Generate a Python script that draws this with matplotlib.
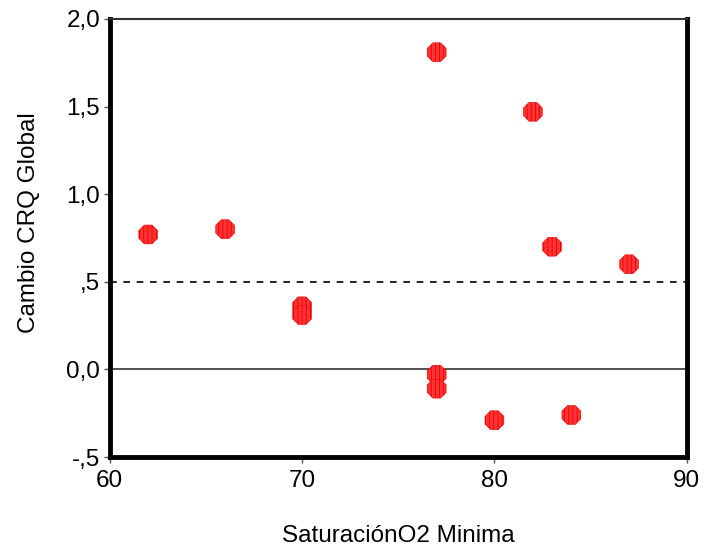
import matplotlib
matplotlib.use("Agg")
import matplotlib.pyplot as plt

# Datos
saturacion_o2 = [62, 66, 70, 70, 77, 77, 77, 80, 82, 83, 84, 87]
cambio_crq = [0.77, 0.80, 0.36, 0.31, 1.81, -0.03, -0.11, -0.29, 1.47, 0.70, -0.26, 0.60]

x_ticks = [60, 70, 80, 90]
y_ticks = [-0.5, 0.0, 0.5, 1.0, 1.5, 2.0]
y_tick_labels = ["-,5", "0,0", ",5", "1,0", "1,5", "2,0"]

plt.rcParams["font.family"] = ["Liberation Sans", "DejaVu Sans"]
plt.rcParams["hatch.linewidth"] = 0.6

fig = plt.figure(figsize=(7.08, 5.56), dpi=100)
ax = fig.add_axes([0.155, 0.178, 0.815, 0.788])

ax.axhline(0.0, color="#333333", linewidth=1.2, zorder=1)
ax.axhline(0.5, color="black", linewidth=1.2, linestyle=(0, (4, 4)), zorder=1)

# puntos rojos con textura de rayas verticales
ax.scatter(saturacion_o2, cambio_crq, s=215, marker="8", facecolor="#ff3333",
           edgecolors="#e80000", hatch="||||", linewidths=0.4, zorder=3)

ax.set_xlim(60, 90)
ax.set_ylim(-0.5, 2.0)
ax.set_xticks(x_ticks)
ax.set_xticklabels([str(t) for t in x_ticks])
ax.set_yticks(y_ticks)
ax.set_yticklabels(y_tick_labels)
ax.tick_params(axis="both", labelsize=17.5, length=4, width=1, color="#555555", pad=3)
ax.tick_params(axis="x", pad=5)

# Bordes gruesos a la izquierda, abajo y a la derecha
for side in ["left", "bottom", "right"]:
    ax.spines[side].set_linewidth(3.5)
ax.spines["top"].set_linewidth(1.5)
ax.spines["top"].set_color("#333333")

ax.set_xlabel("SaturaciónO2 Minima", fontsize=17.5)
ax.set_ylabel("Cambio CRQ Global", fontsize=17.5)
ax.xaxis.set_label_coords(0.5, -0.155)
ax.yaxis.set_label_coords(-0.121, 0.534)

fig.savefig("out.png", dpi=100)
